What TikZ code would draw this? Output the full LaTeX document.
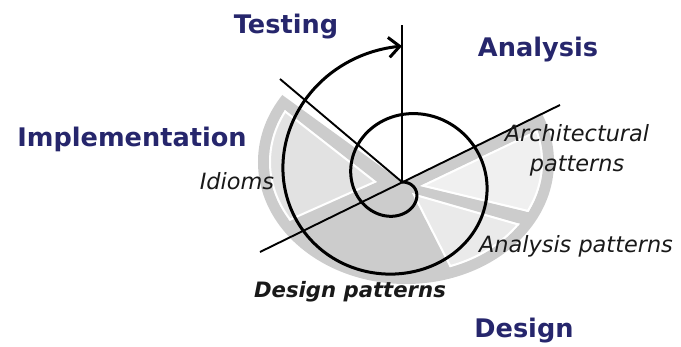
\documentclass[tikz,border=0pt]{standalone}
\usepackage{fontspec}
\setmainfont{DejaVu Sans}
\usetikzlibrary{arrows.meta}
\definecolor{darknavy}{RGB}{38,38,108}
\definecolor{bandgray}{RGB}{204,204,204}
\definecolor{idiomgray}{RGB}{226,226,226}
\definecolor{anagray}{RGB}{234,234,234}
\definecolor{archgray}{RGB}{240,240,240}

\begin{document}
\begin{tikzpicture}[x=0.5pt,y=0.5pt,
    phase/.style={font=\fontsize{12.8pt}{14pt}\selectfont\bfseries,text=darknavy,anchor=base,inner sep=0pt},
    pat/.style={font=\fontsize{11.2pt}{15pt}\selectfont\itshape,text=black!90,anchor=base,inner sep=0pt},
    axis/.style={line width=0.95pt},
    spiral/.style={line width=1.5pt,-{Straight Barb[length=5.5pt,width=10pt]}}]
  \useasboundingbox (-402,-165) rectangle (279,182);
  % gray disc sector
  \begin{scope}
    \clip (0,0) -- (144:400) -- (180:400) -- (270:400) -- (0:400) -- (26.1:400) -- cycle;
    \fill[bandgray] (4,20) ellipse [x radius=148, y radius=122];
  \end{scope}
  % lighter pattern sectors with white rims
  \foreach \cx/\cy/\a/\b/\col in {-25/0/142/204/idiomgray, 10/-11/-63/-16/anagray, 18/-4/-13.5/25.5/archgray}{
    \begin{scope}
      \clip (\cx,\cy) -- +(\a:300) -- +(\b:300) -- cycle;
      \clip (4,20) ellipse [x radius=137, y radius=111];
      \fill[\col] (-300,-300) rectangle (300,300);
      \draw[white,line width=2pt] (\cx,\cy) -- +(\a:300) -- +(\b:300) -- cycle;
      \draw[white,line width=2pt] (4,20) ellipse [x radius=137, y radius=111];
    \end{scope}
  }
  % axes
  \coordinate (hub) at (0,0);
  \coordinate (top) at (0,157);
  \coordinate (nw) at (-122,103);
  \coordinate (sw) at (-142,-70);
  \coordinate (ne) at (158,77);
  \draw[axis] (hub) -- (top);
  \draw[axis] (hub) -- (nw);
  \draw[axis] (sw) -- (ne);
  % spiral ending in the arrow
  \draw[spiral] plot[domain=0:630,samples=180,smooth]
    ({(0.19*\x+16*(1-exp(-\x/30)))*cos(-\x)},
     {(0.19*\x+16*(1-exp(-\x/30)))*sin(-\x)+10*exp(-((\x-450)/90)^2)});
  % phases
  \node[phase] (testing) at (-116,148) {Testing};
  \node[phase] (analysis) at (136,125) {Analysis};
  \node[phase] (impl) at (-270,35) {Implementation};
  \node[phase] (design) at (122,-156) {Design};
  % patterns
  \node[pat] (idioms) at (-165,-8) {Idioms};
  \node[pat,align=center] (arch) at (175,10) {Architectural\\patterns};
  \node[pat] (anapat) at (174,-71) {Analysis patterns};
  \node[pat,font=\fontsize{10.6pt}{14pt}\selectfont\bfseries\itshape] (despat) at (-52,-116) {Design patterns};
\end{tikzpicture}
\end{document}
